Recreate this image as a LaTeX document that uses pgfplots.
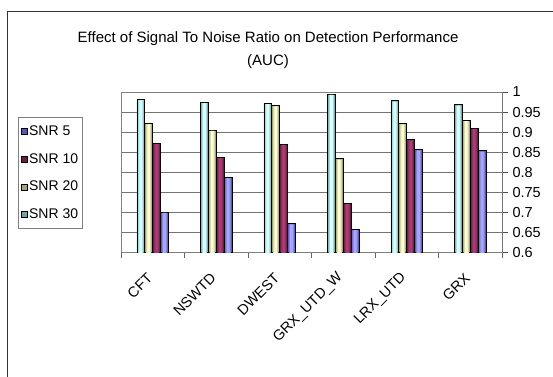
\documentclass[border=0pt]{standalone}
\usepackage{fontspec}
\setmainfont{Liberation Sans}
\usepackage{pgfplots}
\usepackage{pgfplotstable}
\pgfplotsset{compat=1.18}

% bar colours: edge tone, intermediate tone and centre highlight of each series
\definecolor{tealE}{HTML}{72A6A6}
\definecolor{tealM}{HTML}{A6DADA}
\definecolor{tealC}{HTML}{D6FFFF}
\definecolor{khakiE}{HTML}{A4A474}
\definecolor{khakiM}{HTML}{D6D6A4}
\definecolor{khakiC}{HTML}{FFFFD0}
\definecolor{maroonE}{HTML}{6A1C44}
\definecolor{maroonM}{HTML}{902C60}
\definecolor{maroonC}{HTML}{AC3C72}
\definecolor{blueE}{HTML}{5858B0}
\definecolor{blueM}{HTML}{8282E0}
\definecolor{blueC}{HTML}{A6A6FF}

% AUC for each detector (x = detector index) at four SNR levels
\pgfplotstableread{
idx  s30    s20    s10    s5
0    0.982  0.922  0.872  0.700
1    0.974  0.905  0.837  0.787
2    0.972  0.966  0.869  0.671
3    0.995  0.833  0.722  0.657
4    0.978  0.921  0.881  0.856
5    0.968  0.929  0.909  0.853
}\auc

% a bar series: outlined bar in the edge tone plus two narrower highlight strips
\newcommand{\barseries}[5]{%
  \addplot[ybar, bar width=0.125, bar shift=#2, fill=#3, draw=black, line width=0.7pt]
    table[x=idx, y=#1] {\auc};
  \addplot[ybar, forget plot, bar width=0.085, bar shift=#2, fill=#4, draw=none, yshift=-0.8pt]
    table[x=idx, y=#1] {\auc};
  \addplot[ybar, forget plot, bar width=0.045, bar shift=#2, fill=#5, draw=none, yshift=-0.8pt]
    table[x=idx, y=#1] {\auc};
}

\begin{document}
\begin{tikzpicture}
\path[use as bounding box] (0pt,0pt) rectangle (553pt,-376pt);
% chart frame
\draw[black!80, line width=0.9pt] (7pt,-400pt) -- (7pt,-11pt) -- (600pt,-11pt);
\begin{axis}[
  at={(121pt,-252pt)}, anchor=south west,
  scale only axis, width=381pt, height=160pt,
  xmin=-0.5, xmax=5.5, ymin=0.6, ymax=1,
  xtick={0,...,5},
  xticklabels={CFT,NSWTD,DWEST,GRX\_UTD\_W,LRX\_UTD,GRX},
  minor xtick={-0.5,0.5,...,5.5},
  major x tick style={draw=none},
  minor x tick style={draw=black!60, line width=0.8pt},
  minor tick length=6pt, major tick length=6pt,
  tick align=outside,
  xtick pos=bottom,
  ytick={0.6,0.65,...,1.01},
  ytick pos=right, yticklabel pos=right,
  y tick style={draw=black!70, line width=0.8pt},
  /pgf/number format/fixed,
  /pgf/number format/precision=2,
  /pgf/number format/assume math mode=true,
  ymajorgrids,
  y grid style={black!55, line width=0.8pt},
  axis line style={black!50, line width=0.8pt},
  yticklabel style={font=\fontsize{14.5}{16}\selectfont, xshift=1pt},
  xticklabel style={font=\fontsize{14.5}{16}\selectfont, rotate=45, anchor=east,
    xshift=-11pt, yshift=-10.4pt},
  title={Effect of Signal To Noise Ratio on Detection Performance\\(AUC)},
  title style={at={(axis description cs:0.386,1.225)}, anchor=center,
    align=center, font=\fontsize{15}{23}\selectfont},
  legend style={at={(axis description cs:-0.270,0.494)}, anchor=west,
    draw=black!50, line width=0.8pt, font=\fontsize{14}{16}\selectfont,
    row sep=12.5pt, inner xsep=2pt, inner ysep=6pt},
  legend cell align=left,
  reverse legend,
  legend image code/.code={\draw[#1, draw=black, line width=0.6pt] (0pt,-3pt) rectangle (6pt,3pt);},
]
\barseries{s30}{-0.1875}{tealE}{tealM}{tealC}
\barseries{s20}{-0.0625}{khakiE}{khakiM}{khakiC}
\barseries{s10}{0.0625}{maroonE}{maroonM}{maroonC}
\barseries{s5}{0.1875}{blueE}{blueM}{blueC}
\legend{SNR 30,SNR 20,SNR 10,SNR 5}
\draw[black!80, line width=0.8pt] (rel axis cs:1,0) -- (rel axis cs:1,1);
\end{axis}
\end{tikzpicture}
\end{document}
